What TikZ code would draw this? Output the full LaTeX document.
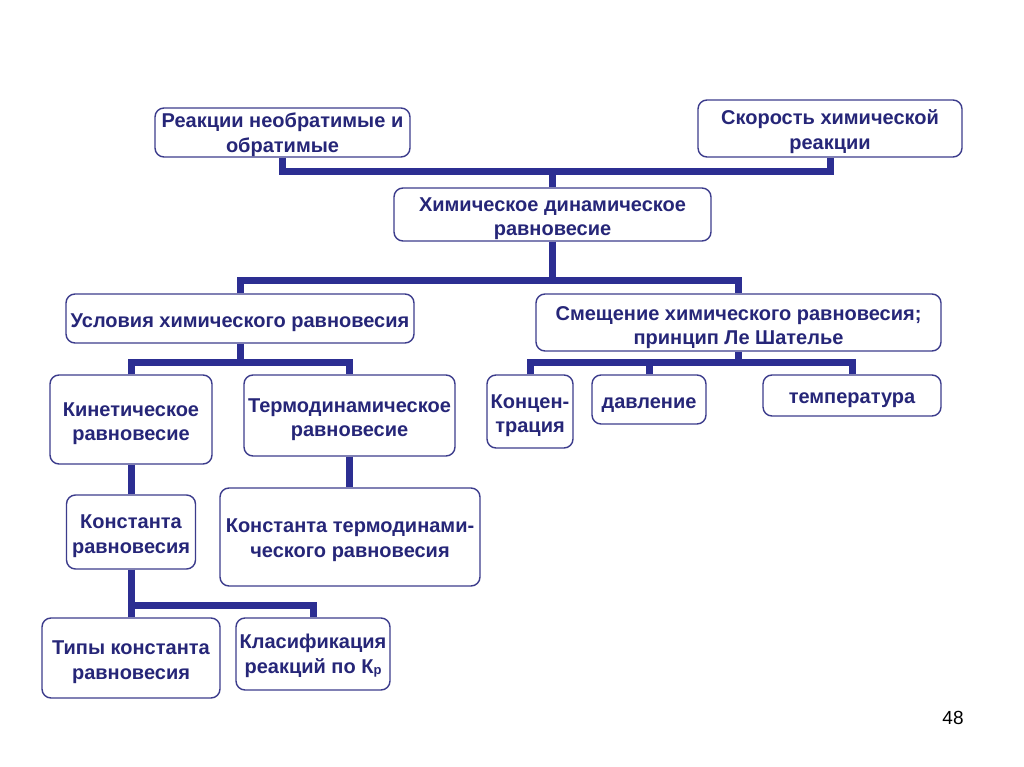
\documentclass[tikz,border=0pt]{standalone}
\usepackage{fontspec}
\setmainfont{Liberation Sans}
\definecolor{txt}{RGB}{38,38,120}
\definecolor{lin}{RGB}{44,46,146}
\definecolor{brd}{RGB}{60,60,140}
\begin{document}
\begin{tikzpicture}[x=1pt,y=-1pt,
  box/.style={draw=brd,line width=1.4pt,rounded corners=9pt,fill=white,inner sep=0pt},
  lbl/.style={font=\bfseries\fontsize{20}{24.5}\selectfont,text=txt,align=center,inner sep=0pt,yshift=-4pt},
  conn/.style={draw=lin,line width=7pt,line join=miter}]
\useasboundingbox[fill=white] (0,0) rectangle (1024,767);
% nodes
\node[box,minimum width=255pt,minimum height=49pt,label={[lbl,yshift=2pt]center:{Реакции необратимые и\\обратимые}}] (r) at (282.5,132.5) {};
\node[box,minimum width=264pt,minimum height=57pt,label={[lbl,yshift=1pt]center:{Скорость химической\\реакции}}] (s) at (830,128.5) {};
\node[box,minimum width=317pt,minimum height=53pt,label={[lbl]center:{Химическое динамическое\\равновесие}}] (h) at (552.5,214.5) {};
\node[box,minimum width=348pt,minimum height=49pt,label={[lbl]center:{Условия химического равновесия}}] (u) at (240,318.5) {};
\node[box,minimum width=405pt,minimum height=57pt,label={[lbl,yshift=-1pt]center:{Смещение химического равновесия;\\принцип Ле Шателье}}] (sm) at (738.5,322.5) {};
\node[box,minimum width=162pt,minimum height=89pt,label={[lbl]center:{Кинетическое\\равновесие}}] (k) at (131,419.5) {};
\node[box,minimum width=211pt,minimum height=81pt,label={[lbl]center:{Термодинамическое\\равновесие}}] (t) at (349.5,415.5) {};
\node[box,minimum width=86pt,minimum height=73pt,label={[lbl]center:{Концен-\\трация}}] (c) at (530,411.5) {};
\node[box,minimum width=114pt,minimum height=49pt,label={[lbl,yshift=-1.5pt]center:{давление}}] (d) at (649,399.5) {};
\node[box,minimum width=178pt,minimum height=41pt,label={[lbl,yshift=-1pt]center:{температура}}] (te) at (852,395.5) {};
\node[box,minimum width=129pt,minimum height=74pt,label={[lbl]center:{Константа\\равновесия}}] (kr) at (131,532) {};
\node[box,minimum width=260pt,minimum height=98pt,label={[lbl,yshift=1pt]center:{Константа термодинами-\\ческого равновесия}}] (kt) at (350,537) {};
\node[box,minimum width=178pt,minimum height=80pt,label={[lbl]center:{Типы константа\\равновесия}}] (tp) at (131,658) {};
\node[box,minimum width=154pt,minimum height=72pt,label={[lbl,yshift=2pt]center:{Класифика\-ция\\реакций по К{\fontsize{13}{13}\selectfont\raisebox{-1.5pt}{р}}}}] (kl) at (313,654) {};
\node[font=\fontsize{19}{20}\selectfont,text=black] (n) at (953,718) {48};
% junctions
\coordinate (j1) at (552.5,172);
\coordinate (j2) at (552.5,280);
\coordinate (j3) at (240,362);
\coordinate (j4) at (738.5,362);
\coordinate (j5) at (131,605);
% connectors
\draw[conn] (r.south) |- (j1) -| (s.south);
\draw[conn] (j1) -- (h.north);
\draw[conn] (h.south) -- (j2);
\draw[conn] (u.north) |- (j2) -| (sm.north);
\draw[conn] (u.south) -- (j3);
\draw[conn] (k.north) |- (j3) -| (t.north);
\draw[conn] (sm.south) -- (j4);
\draw[conn] (c.north) |- (j4) -| (te.north);
\draw[conn] (d.north) -- (d.north |- j4);
\draw[conn] (k.south) -- (k.south |- kr.north);
\draw[conn] (t.south) -- (t.south |- kt.north);
\draw[conn] (kr.south) -- (j5);
\draw[conn] (tp.north) |- (j5) -| (kl.north);
\end{tikzpicture}
\end{document}
